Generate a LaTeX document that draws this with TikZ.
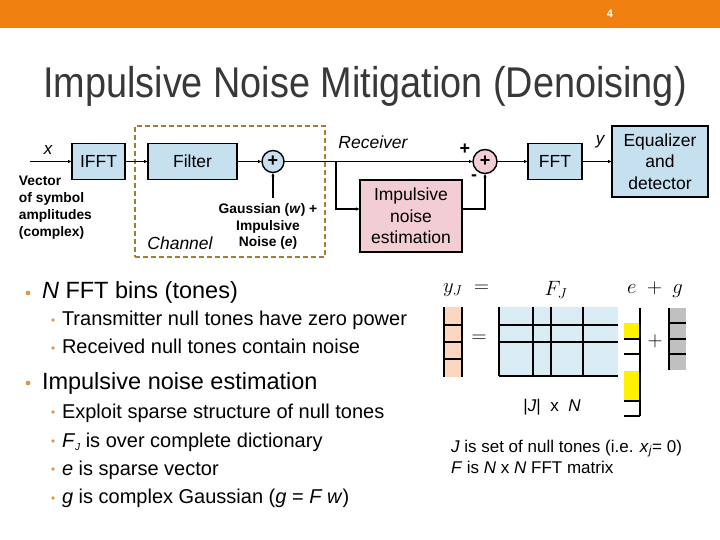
\documentclass[tikz,border=0pt]{standalone}
\usepackage{fontspec}
\setmainfont{Liberation Sans}
\newfontfamily\titlefont[FakeStretch=0.88]{Liberation Sans}
\usetikzlibrary{arrows.meta}
\definecolor{barorange}{RGB}{240,128,16}
\definecolor{boxblue}{RGB}{198,224,240}
\definecolor{boxpink}{RGB}{242,205,211}
\definecolor{chanbrown}{RGB}{166,122,60}
\definecolor{matblue}{RGB}{218,236,243}
\definecolor{vecpeach}{RGB}{250,215,190}
\definecolor{vecgray}{RGB}{192,192,192}
\definecolor{dotorange}{RGB}{225,150,70}
\definecolor{titlegray}{RGB}{56,56,56}
\newcommand{\pxfont}[2]{\fontsize{#1}{#2}\selectfont}
\tikzset{every node/.style={inner sep=0pt,outer sep=0pt}}

\begin{document}
\begin{tikzpicture}[x=1pt,y=-1pt]
\useasboundingbox (0,0) rectangle (720,540);

% header
\fill[barorange] (0,0) rectangle (720,28);
\node[white,font=\pxfont{11}{13}\bfseries] (pg) at (610,14) {4};
\node[titlegray,anchor=base,font=\titlefont\pxfont{43}{48}] (title) at (365,97.5) {Impulsive Noise Mitigation (Denoising)};

\tikzstyle{blk}=[draw,line width=1.4pt,fill=boxblue,font=\pxfont{17.5}{21.5},align=center,minimum height=36pt]
\tikzstyle{sum}=[draw,line width=1.4pt,circle,minimum size=22pt,font=\pxfont{18}{20}\bfseries]
\tikzstyle{sig}=[line width=1.4pt,-{Latex[length=4pt,width=3.5pt]}]
\tikzstyle{chan}=[draw=chanbrown,line width=2.4pt,dash pattern=on 5pt off 3pt,minimum width=190pt,minimum height=131pt]

% channel
\node[chan] (chan) at (230,191.5) {};
\node[font=\pxfont{17.5}{20}\itshape] (chanlbl) at (180,243) {Channel};

% blocks
\node[blk,minimum width=53pt] (ifft) at (98.5,161.5) {IFFT};
\node[blk,minimum width=89pt] (filt) at (192.5,161.5) {Filter};
\node[sum,fill=boxblue] (sum1) at (273,161.5) {+};
\node[blk,fill=boxpink,minimum width=102pt,minimum height=72pt] (imp) at (411,216) {Impulsive\\noise\\estimation};
\node[sum,fill=boxpink,minimum size=24pt] (sum2) at (485,161.5) {+};
\node[blk,minimum width=54pt] (fft) at (555,161.5) {FFT};
\node[blk,minimum width=96pt,minimum height=71pt] (eq) at (660,161.5) {Equalizer\\and\\detector};

% labels
\node[font=\pxfont{17}{20}\itshape] (xlbl) at (48,150) {x};
\node[anchor=west,align=left,font=\pxfont{13.8}{17}\bfseries] (vec) at (19,207.5) {Vector\\of symbol\\amplitudes\\(complex)};
\node[align=center,font=\pxfont{13.8}{16.5}\bfseries] (noise) at (268,226.5) {Gaussian (\textit{w}) +\\Impulsive\\Noise (\textit{e})};
\node[font=\pxfont{17.5}{20}\itshape] (rx) at (373,142) {Receiver};
\node[font=\pxfont{18}{20}\bfseries] (plus) at (465,149) {+};
\node[font=\pxfont{18}{20}\bfseries] (minus) at (474,178) {-};
\node[font=\pxfont{17}{20}\itshape] (ylbl) at (600,142) {y};

% connectors
\coordinate (xin) at (30,161.5);
\coordinate (nz) at (273,198);
\coordinate (br) at (336,161.5);
\draw[sig] (xin) -- (ifft);
\draw[sig] (ifft) -- (filt);
\draw[sig] (filt) -- (sum1);
\draw[sig] (nz) -- (sum1);
\draw[sig] (sum1) -- (sum2);
\draw[sig] (br) |- ([yshift=7pt]imp.west);
\draw[sig] ([yshift=7pt]imp.east) -| (sum2.south);
\draw[sig] (sum2) -- (fft);
\draw[sig] (fft) -- (eq);

% bullets
\tikzstyle{lone}=[anchor=base west,font=\pxfont{23.5}{26}]
\tikzstyle{ltwo}=[anchor=base west,font=\pxfont{20}{24}]
\foreach \yy in {293,383}
  \fill[dotorange] (28,\yy) circle (2.4pt);
\foreach \yy in {320,348,412,441,469,498}
  \fill[dotorange] (53,\yy) circle (1.8pt);
\node[lone] (bins) at (42,298) {\textit{N} FFT bins (tones)};
\node[ltwo] (txnull) at (62,325) {Transmitter null tones have zero power};
\node[ltwo] (rxnull) at (62,353) {Received null tones contain noise};
\node[lone] (est) at (42,389) {Impulsive noise estimation};
\node[ltwo] (sparse) at (62,418) {Exploit sparse structure of null tones};
\node[ltwo] (dict) at (62,447) {\textit{F}\raisebox{-3pt}{\pxfont{10}{12}\textit{J}} is over complete dictionary};
\node[ltwo] (evec) at (62,475) {\textit{e} is sparse vector};
\node[ltwo] (gvec) at (62,503) {\textit{g} is complex Gaussian (\textit{g} = \textit{F w})};

% matrix equation
\tikzstyle{grid}=[line width=1.1pt]
\fill[vecpeach] (444,307) rectangle (462,377);
\draw[grid] (444,307) -- (444,377) (462,307) -- (462,377);
\foreach \yy in {325,342,359}
  \draw[grid] (444,\yy) -- (462,\yy);
\fill[matblue] (499,307) rectangle (618,376);
\foreach \xx in {499,533,551,583}
  \draw[grid] (\xx,307) -- (\xx,376);
\foreach \yy in {325,342,376}
  \draw[grid] (499,\yy) -- (618,\yy);
\fill[yellow] (624,323) rectangle (640,339);
\fill[yellow] (624,371) rectangle (640,401);
\draw[grid] (640,308) -- (640,416);
\foreach \yy in {339,354,401,416}
  \draw[grid] (624,\yy) -- (640,\yy);
\fill[vecgray] (669,308) rectangle (686,370);
\draw[grid] (669,308) -- (669,370);
\foreach \yy in {323,339,354}
  \draw[grid] (669,\yy) -- (686,\yy);

\tikzstyle{eqn}=[font=\pxfont{22}{26}]
\node[eqn,anchor=west] (ylab) at (443,290) {$y_J\;=$};
\node[eqn] (flab) at (556,290) {$F_J$};
\node[eqn] (eglab) at (655,290) {$e\;+\;g$};
\node[eqn] (eqsign) at (479,339) {$=$};
\node[eqn] (plsign) at (655,341) {$+$};
\node[font=\pxfont{17}{20}] (dims) at (552,407) {|\textit{J}|\;\;x\;\;\textit{N}};
\node[anchor=base west,font=\pxfont{17}{20}] (jset) at (451,452) {\textit{J} is set of null tones (i.e. \textit{x}\textsubscript{\textit{j}}= 0)};
\node[anchor=base west,font=\pxfont{17}{20}] (fdef) at (451,473) {\textit{F} is \textit{N} x \textit{N} FFT matrix};

\end{tikzpicture}
\end{document}
